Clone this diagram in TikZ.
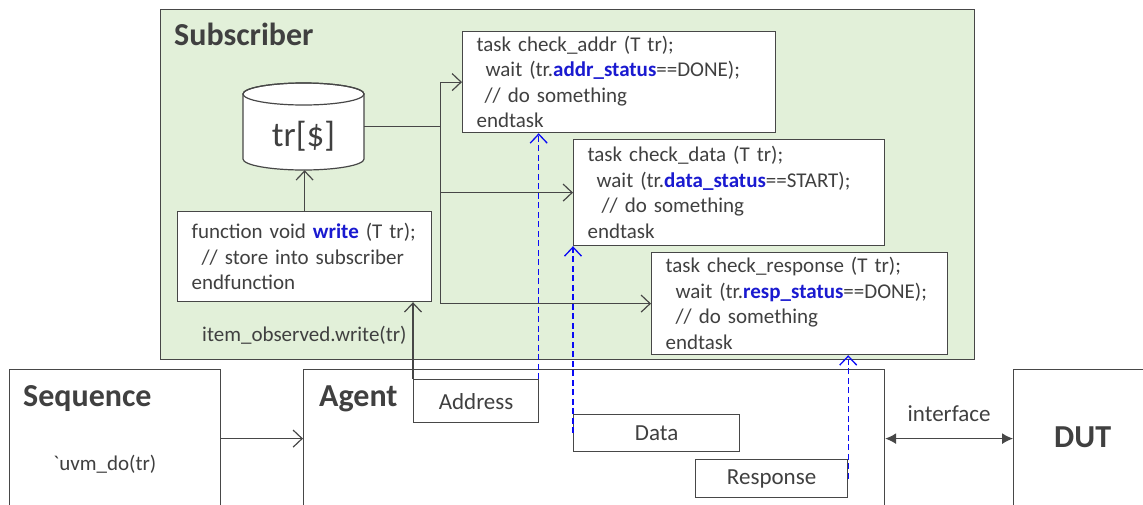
\documentclass[tikz,border=0pt]{standalone}
\usepackage{fontspec}
\setmainfont{Carlito}
\newfontfamily\rawfont{Carlito}
\usetikzlibrary{arrows.meta}
\definecolor{ink}{HTML}{404040}
\definecolor{edge}{HTML}{474747}
\definecolor{subfill}{HTML}{E2F0D9}
\definecolor{kwblue}{HTML}{1A1AD0}
\definecolor{linkblue}{HTML}{0A0AF5}
\newcommand\kwd[1]{\textcolor{kwblue}{\textbf{#1}}}

\begin{document}
\begin{tikzpicture}[x=1pt,y=1pt,
  every node/.style={text=ink},
  plainbox/.style={draw=edge, line width=1.2pt, fill=white, inner sep=0pt, anchor=north west},
  codebox/.style={plainbox, align=left, inner xsep=14pt, inner ysep=0pt,
    font=\fontsize{21}{25.5}\selectfont},
  heading/.style={font=\fontsize{32}{36}\selectfont\bfseries, inner sep=0pt, anchor=base west},
  tag/.style={font=\fontsize{23}{27}\selectfont, inner sep=0pt},
  body/.style={font=\fontsize{21}{25.5}\selectfont, inner sep=0pt, anchor=base west},
  wire/.style={draw=edge, line width=1.2pt},
  feed/.style={wire, -{Straight Barb[length=9pt,width=17pt]}},
  watch/.style={draw=linkblue, line width=1.3pt, dash pattern=on 6pt off 3.5pt,
    -{Straight Barb[length=9pt,width=17pt]}},
  iface/.style={wire, {Latex[length=11pt,width=11pt]}-{Latex[length=11pt,width=11pt]}},
]
\useasboundingbox (0,0) rectangle (1143,-504);
\clip (0,0) rectangle (1143,-504);

% subscriber container
\node[draw=edge, fill=subfill, line width=1.4pt, inner sep=0pt, anchor=north west,
  minimum width=814pt, minimum height=350pt] (sub) at (160,-9) {};
\node[heading] (subT) at (174,-45) {Subscriber};

% lower row: sequence, agent, DUT
\node[plainbox, minimum width=211pt, minimum height=138pt] (seq) at (9,-369) {};
\node[plainbox, minimum width=581pt, minimum height=138pt] (agent) at (303,-369) {};
\node[plainbox, minimum width=160pt, minimum height=138pt] (dut) at (1013,-369) {};
\node[heading] (seqT) at (23,-406) {Sequence};
\node[heading] (agentT) at (319,-406) {Agent};
\node[heading] (dutT) at (1054,-447) {DUT};
\node[body] (uvm) at (53,-470) {\rawfont `uvm\_do(tr)};

% agent channels
\node[plainbox, tag, minimum width=125pt, minimum height=43pt] (address) at (413,-379) {Address};
\node[plainbox, tag, minimum width=166pt, minimum height=37pt] (data) at (573,-414) {Data};
\node[plainbox, tag, minimum width=152pt, minimum height=38pt] (response) at (695,-459) {Response};

% transaction store
\path[draw=edge, fill=white, line width=1.2pt]
  (243,-94) -- (243,-159) arc[start angle=180, end angle=360, x radius=60.5, y radius=11]
  -- (364,-94) arc[start angle=0, end angle=180, x radius=60.5, y radius=11] -- cycle;
\draw[edge, line width=1.2pt] (303.5,-94) ellipse[x radius=60.5, y radius=11];
\node[inner sep=0pt, minimum width=121pt, minimum height=87pt] (store) at (303.5,-126.5) {};
\node[font=\fontsize{35}{40}\selectfont, inner sep=0pt] (storeT) at (303.5,-136) {tr[\$]};

% code blocks
\node[codebox, text width=226pt, minimum height=90pt] (write) at (177,-211)
  {function void \kwd{write} (T tr);\\\hspace*{10pt}// store into subscriber\\endfunction};
\node[codebox, text width=285pt, minimum height=101pt] (caddr) at (462,-31)
  {task check\_addr (T tr);\\\hspace*{9pt}wait (tr.\kwd{addr\_status}==DONE);\\\hspace*{8pt}// do something\\endtask};
\node[codebox, text width=283pt, minimum height=106pt] (cdata) at (573,-139)
  {task check\_data (T tr);\\\hspace*{9pt}wait (tr.\kwd{data\_status}==START);\\\hspace*{14pt}// do something\\endtask};
\node[codebox, text width=268pt, minimum height=102pt] (cresp) at (651,-252)
  {task check\_response (T tr);\\\hspace*{10pt}wait (tr.\kwd{resp\_status}==DONE);\\\hspace*{10pt}// do something\\endtask};

\node[body] (call) at (202,-341) {item\_observed.write(tr)};

% connectors
\draw[feed] (write.north) -- (write.north |- store.south);
\coordinate (split) at ([xshift=76pt]store.east);
\draw[wire] (store.east) -- (split);
\draw[feed] (split) |- (caddr.west);
\draw[feed] (split) |- (cdata.west);
\draw[feed] (split) |- (cresp.west);
\draw[feed] (address.north west) -- (address.north west |- write.south);
\draw[watch] ([xshift=-0.5pt]address.north east) -- ([xshift=-0.5pt]address.north east |- caddr.south);
\draw[watch] (data.west) -- (data.west |- cdata.south);
\draw[watch] (response.east) -- (response.east |- cresp.south);
\draw[feed] (seq) -- (agent);
\draw[iface] (agent) -- (dut) node[midway, above=16pt, tag] (ifT) {interface};
\end{tikzpicture}
\end{document}
